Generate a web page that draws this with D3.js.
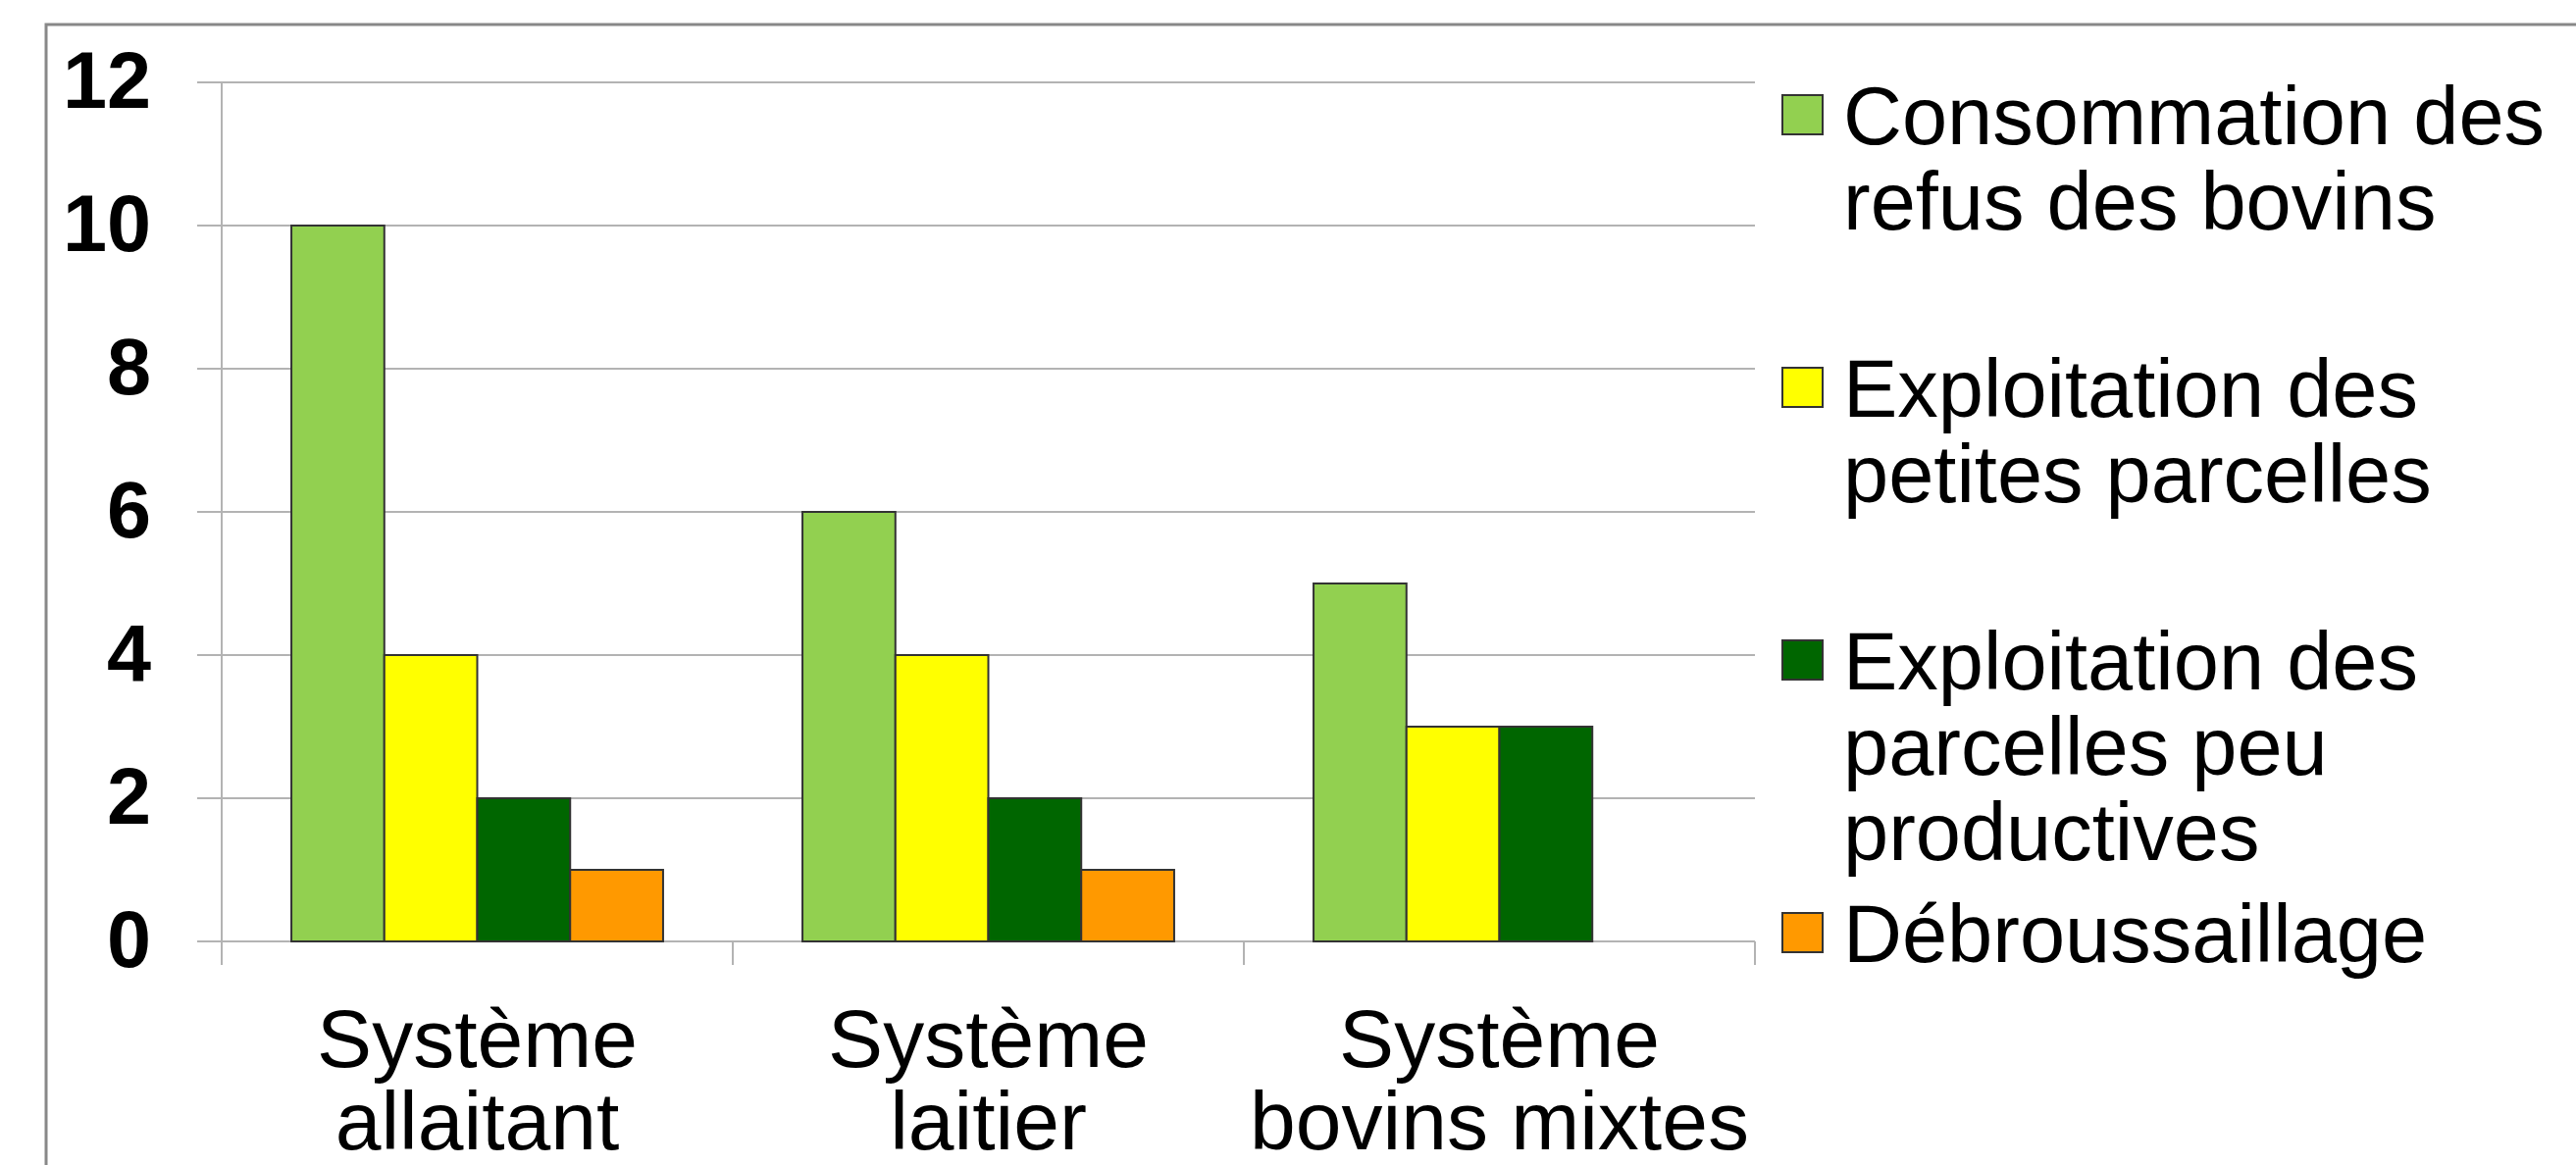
<!DOCTYPE html>
<html>
  <head>
    <meta charset="utf-8">
    <script src="https://d3js.org/d3.v7.min.js"></script>
    <style>
      body { margin: 0; background-color: white; }
      text { font-family: 'Liberation Sans', Arial, sans-serif; }
    </style>
  </head>
  <body>
    <svg id="canvas" width="2626" height="1188"></svg>
    <script>
      const categories = [['Système', 'allaitant'], ['Système', 'laitier'], ['Système', 'bovins mixtes']]
      const series = [
        ['Consommation des', 'refus des bovins'],
        ['Exploitation des', 'petites parcelles'],
        ['Exploitation des', 'parcelles peu', 'productives'],
        ['Débroussaillage']
      ]
      const colors = ['#92d050', '#ffff00', '#006600', '#ff9900']
      // one row per category, one value per series
      const values = [
        [10, 4, 2, 1],
        [6, 4, 2, 1],
        [5, 3, 3, 0]
      ]
      const yTicks = [0, 2, 4, 6, 8, 10, 12]

      const gridColor = '#b3b3b3'
      let svg = d3.select('#canvas')

      // outer frame, runs off the right and bottom edges
      svg.append('rect')
        .attr('x', 47).attr('y', 25)
        .attr('width', 2700).attr('height', 1300)
        .attr('fill', 'white')
        .attr('stroke', '#888').attr('stroke-width', 3)

      let y = d3.scaleLinear().domain([0, 12]).range([960, 84])
      let x0 = d3.scaleBand().domain(d3.range(categories.length)).range([226, 1789])
      let x1 = d3.scaleBand().domain(d3.range(series.length))
        .range([0, x0.bandwidth()]).paddingInner(0).paddingOuter(0.75)

      // gridlines + left ticks
      svg.append('g').selectAll('line').data(yTicks).enter().append('line')
        .attr('x1', 201).attr('x2', 1789)
        .attr('y1', d => y(d)).attr('y2', d => y(d))
        .attr('stroke', gridColor).attr('stroke-width', 2)

      // y axis line
      svg.append('line')
        .attr('x1', 226).attr('x2', 226)
        .attr('y1', y(12)).attr('y2', 984)
        .attr('stroke', gridColor).attr('stroke-width', 2)

      // category separators below the axis
      svg.append('g').selectAll('line').data(d3.range(categories.length)).enter().append('line')
        .attr('x1', d => x0(d) + x0.bandwidth()).attr('x2', d => x0(d) + x0.bandwidth())
        .attr('y1', y(0)).attr('y2', 984)
        .attr('stroke', gridColor).attr('stroke-width', 2)

      // y tick labels
      svg.append('g').selectAll('text').data(yTicks).enter().append('text')
        .attr('x', 154).attr('y', d => y(d)).attr('dy', '0.32em')
        .attr('text-anchor', 'end')
        .attr('font-size', 81).attr('font-weight', 'bold')
        .text(d => d)

      // bars
      let groups = svg.append('g').selectAll('g').data(values).enter().append('g')
        .attr('transform', (d, i) => `translate(${x0(i)},0)`)

      groups.selectAll('rect').data(d => d.filter(v => v > 0).map((v, j) => ({ v, j })))
        .enter().append('rect')
          .attr('x', d => x1(d.j))
          .attr('y', d => y(d.v))
          .attr('width', x1.bandwidth())
          .attr('height', d => y(0) - y(d.v))
          .attr('fill', d => colors[d.j])
          .attr('stroke', '#333').attr('stroke-width', 2)

      // category labels
      let cat = svg.append('g').selectAll('text').data(categories).enter().append('text')
        .attr('x', (d, i) => x0(i) + x0.bandwidth() / 2)
        .attr('y', 1088)
        .attr('text-anchor', 'middle')
        .attr('font-size', 84)
      cat.selectAll('tspan').data(d => d).enter().append('tspan')
        .attr('x', function () { return this.parentNode.getAttribute('x') })
        .attr('dy', (d, i) => i === 0 ? 0 : 84)
        .text(d => d)

      // legend
      const legendTop = 147
      const legendStep = 278
      let leg = svg.append('g').selectAll('g').data(series).enter().append('g')
        .attr('transform', (d, i) => `translate(1817,${legendTop + i * legendStep})`)

      leg.append('rect')
        .attr('x', 0).attr('y', -50)
        .attr('width', 41).attr('height', 40)
        .attr('fill', (d, i) => colors[i])
        .attr('stroke', '#333').attr('stroke-width', 2)

      let lt = leg.append('text')
        .attr('x', 62).attr('y', 0)
        .attr('font-size', 83)
      lt.selectAll('tspan').data(d => d).enter().append('tspan')
        .attr('x', 62)
        .attr('dy', (d, i) => i === 0 ? 0 : 87)
        .text(d => d)
    </script>
  </body>
</html>
